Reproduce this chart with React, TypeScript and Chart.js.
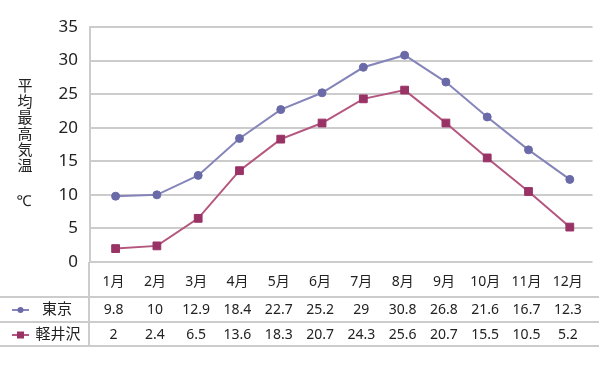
import React, { useEffect, useRef } from "react";
import { Chart, registerables } from "chart.js";

Chart.register(...registerables);

const months = ["1月", "2月", "3月", "4月", "5月", "6月", "7月", "8月", "9月", "10月", "11月", "12月"];
const tokyo = [9.8, 10, 12.9, 18.4, 22.7, 25.2, 29, 30.8, 26.8, 21.6, 16.7, 12.3];
const karuizawa = [2, 2.4, 6.5, 13.6, 18.3, 20.7, 24.3, 25.6, 20.7, 15.5, 10.5, 5.2];
const seriesNames = ["東京", "軽井沢"];
const yTitleChars = ["平", "均", "最", "高", "気", "温"];
const unitLabel = "℃";

const TOKYO_LINE = "#8585ba";
const TOKYO_MARK = "#6a6aa8";
const KARU_LINE = "#b5567f";
const KARU_MARK = "#993366";
const GRID = "#cccccc";
const TEXT = "#222222";
const FONT = '"Noto Sans", "Noto Sans CJK JP", sans-serif';

const tablePlugin = {
  id: "tablePlugin",
  afterDraw(chart: any) {
    const ctx = chart.ctx;
    const xs = chart.scales.x;
    const area = chart.chartArea;
    const W = chart.width;
    const rowLines = [297, 322, 346];
    ctx.save();
    ctx.strokeStyle = GRID;
    ctx.lineWidth = 2;
    rowLines.forEach((y) => {
      ctx.beginPath();
      ctx.moveTo(0, y);
      ctx.lineTo(W, y);
      ctx.stroke();
    });
    ctx.beginPath();
    ctx.moveTo(area.left - 1, area.bottom);
    ctx.lineTo(area.left - 1, rowLines[2] + 1);
    ctx.stroke();

    ctx.fillStyle = TEXT;
    ctx.textAlign = "center";
    ctx.textBaseline = "middle";
    ctx.font = `14px ${FONT}`;
    months.forEach((m, i) => {
      const x = xs.getPixelForValue(i) - 2;
      ctx.fillText(m, x, 282);
      ctx.fillText(String(tokyo[i]), x, 310);
      ctx.fillText(String(karuizawa[i]), x, 335);
    });

    // legend keys
    ctx.font = `15px ${FONT}`;
    ctx.fillText(seriesNames[0], 57, 310);
    ctx.fillText(seriesNames[1], 58, 335);
    ctx.lineWidth = 2;
    ctx.strokeStyle = TOKYO_LINE;
    ctx.beginPath();
    ctx.moveTo(12, 310);
    ctx.lineTo(29, 310);
    ctx.stroke();
    ctx.fillStyle = TOKYO_MARK;
    ctx.beginPath();
    ctx.arc(20.5, 310, 3, 0, Math.PI * 2);
    ctx.fill();
    ctx.strokeStyle = KARU_LINE;
    ctx.beginPath();
    ctx.moveTo(12, 335);
    ctx.lineTo(29, 335);
    ctx.stroke();
    ctx.fillStyle = KARU_MARK;
    ctx.fillRect(17, 331.5, 7, 7);

    // y axis title (vertical)
    ctx.fillStyle = TEXT;
    ctx.font = `15px ${FONT}`;
    yTitleChars.forEach((c, i) => {
      ctx.fillText(c, 25, 87 + i * 16);
    });
    ctx.fillText(unitLabel, 24, 202);
    ctx.restore();
  },
};

export default function App() {
  const ref = useRef<HTMLCanvasElement | null>(null);
  useEffect(() => {
    if (!ref.current) return;
    const chart = new Chart(ref.current, {
      type: "line",
      data: {
        datasets: [
          {
            label: seriesNames[0],
            data: tokyo.map((v, i) => ({ x: i, y: v })),
            borderColor: TOKYO_LINE,
            borderWidth: 2,
            pointStyle: "circle",
            pointRadius: 4,
            pointBorderWidth: 1,
            pointBackgroundColor: TOKYO_MARK,
            pointBorderColor: TOKYO_MARK,
            tension: 0,
          },
          {
            label: seriesNames[1],
            data: karuizawa.map((v, i) => ({ x: i, y: v })),
            borderColor: KARU_LINE,
            borderWidth: 2,
            pointStyle: "rect",
            pointRadius: 5.5,
            pointBorderWidth: 1,
            pointBackgroundColor: KARU_MARK,
            pointBorderColor: KARU_MARK,
            tension: 0,
          },
        ],
      },
      options: {
        responsive: false,
        animation: false,
        devicePixelRatio: 1,
        layout: { padding: { top: 27, bottom: 104, left: 0, right: 0 } },
        plugins: { legend: { display: false }, tooltip: { enabled: false } },
        scales: {
          x: {
            type: "linear",
            min: -0.62,
            max: 11.55,
            display: false,
          },
          y: {
            min: 0,
            max: 35,
            afterFit: (s: any) => {
              s.width = 90;
            },
            ticks: {
              stepSize: 5,
              padding: 12,
              color: TEXT,
              font: { size: 17, family: FONT },
            },
            grid: { color: GRID, lineWidth: 2, drawTicks: false },
            border: { display: true, color: GRID, width: 2 },
          },
        },
      },
      plugins: [tablePlugin],
    } as any);
    return () => chart.destroy();
  }, []);
  return (
    <div style={{ position: "absolute", left: 0, top: 0, width: 599, height: 366, background: "#fff" }}>
      <canvas ref={ref} width={599} height={366} style={{ display: "block" }} />
    </div>
  );
}
